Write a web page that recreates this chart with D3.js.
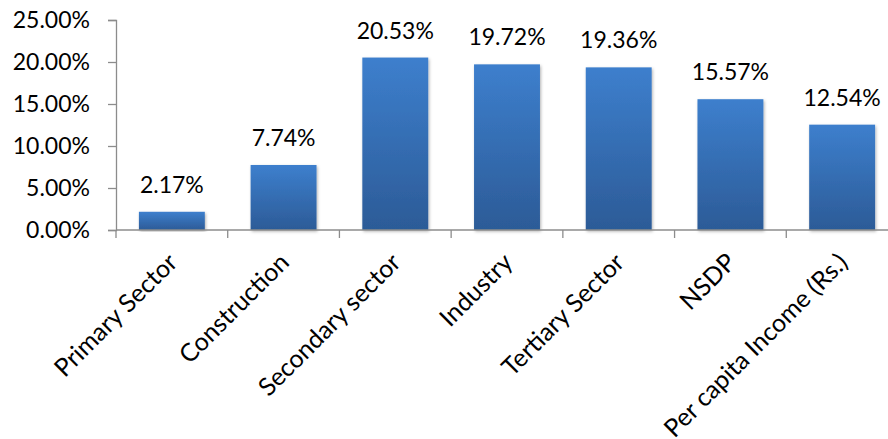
<!DOCTYPE html>
<html>
<head>
<meta charset="utf-8">
<script src="https://cdn.jsdelivr.net/npm/d3@7"></script>
<style>
  html, body { margin: 0; padding: 0; background: #fff; }
  svg { display: block; }
  text { font-family: Lato, "Open Sans", sans-serif; fill: #000; }
</style>
</head>
<body>
<svg id="chart" width="888" height="439"></svg>
<script>
// Growth rates by sector
const categories = ["Primary Sector", "Construction", "Secondary sector", "Industry",
                    "Tertiary Sector", "NSDP", "Per capita Income (Rs.)"];
const values = [2.17, 7.74, 20.53, 19.72, 19.36, 15.57, 12.54];
const yTicks = [0, 5, 10, 15, 20, 25];

const svg = d3.select("#chart");
const plot = { left: 116, right: 898, top: 20, bottom: 230 };

const x = d3.scaleBand().domain(categories).range([plot.left, plot.right])
  .paddingInner(0.41).paddingOuter(0.205);
const y = d3.scaleLinear().domain([0, 25]).range([plot.bottom, plot.top]);

// gradient and soft shadow for the bars
const defs = svg.append("defs");
const grad = defs.append("linearGradient").attr("id", "barGrad")
  .attr("x1", 0).attr("y1", 0).attr("x2", 0).attr("y2", 1);
grad.append("stop").attr("offset", "0%").attr("stop-color", "#3d7fcd");
grad.append("stop").attr("offset", "100%").attr("stop-color", "#2c5b97");
const f = defs.append("filter").attr("id", "shadow")
  .attr("x", "-20%").attr("y", "-10%").attr("width", "140%").attr("height", "120%");
f.append("feDropShadow").attr("dx", 1).attr("dy", 1.5).attr("stdDeviation", 1.8)
  .attr("flood-color", "#000").attr("flood-opacity", 0.3);

// bars
svg.append("g").selectAll("rect").data(values).join("rect")
  .attr("x", (d, i) => x(categories[i]))
  .attr("y", d => y(d))
  .attr("width", x.bandwidth())
  .attr("height", d => y(0) - y(d))
  .attr("fill", "url(#barGrad)")
  .attr("filter", "url(#shadow)");

// y axis
const yAxis = svg.append("g").attr("transform", `translate(${plot.left},0)`)
  .call(d3.axisLeft(y).tickValues(yTicks).tickSize(8).tickPadding(18)
    .tickFormat(d => d.toFixed(2) + "%"));
yAxis.select(".domain").attr("stroke", "#8c8c8c").attr("stroke-width", 1.3);
yAxis.selectAll(".tick line").attr("stroke", "#8c8c8c").attr("stroke-width", 1.3);
yAxis.selectAll(".tick text").attr("font-size", 23).attr("font-family", "Lato, sans-serif")
  .attr("fill", "#000");

// x axis: boundary ticks between categories
const xg = svg.append("g").attr("transform", `translate(0,${plot.bottom})`);
xg.append("line").attr("x1", plot.left).attr("x2", plot.right)
  .attr("stroke", "#8c8c8c").attr("stroke-width", 1.3);
const step = x.step();
xg.selectAll("line.tk").data(d3.range(categories.length + 1)).join("line").attr("class", "tk")
  .attr("x1", i => plot.left + i * step).attr("x2", i => plot.left + i * step)
  .attr("y1", 0).attr("y2", 8).attr("stroke", "#8c8c8c").attr("stroke-width", 1.3);

// rotated category labels
svg.append("g").selectAll("text").data(categories).join("text")
  .attr("transform", d => `translate(${x(d) + x.bandwidth() / 2 + 7},264) rotate(-45)`)
  .attr("text-anchor", "end")
  .attr("font-size", 25)
  .text(d => d);

// value labels
svg.append("g").selectAll("text").data(values).join("text")
  .attr("x", (d, i) => x(categories[i]) + x.bandwidth() / 2)
  .attr("y", d => y(d) - 19)
  .attr("text-anchor", "middle")
  .attr("font-size", 23)
  .text(d => d.toFixed(2) + "%");
</script>
</body>
</html>
